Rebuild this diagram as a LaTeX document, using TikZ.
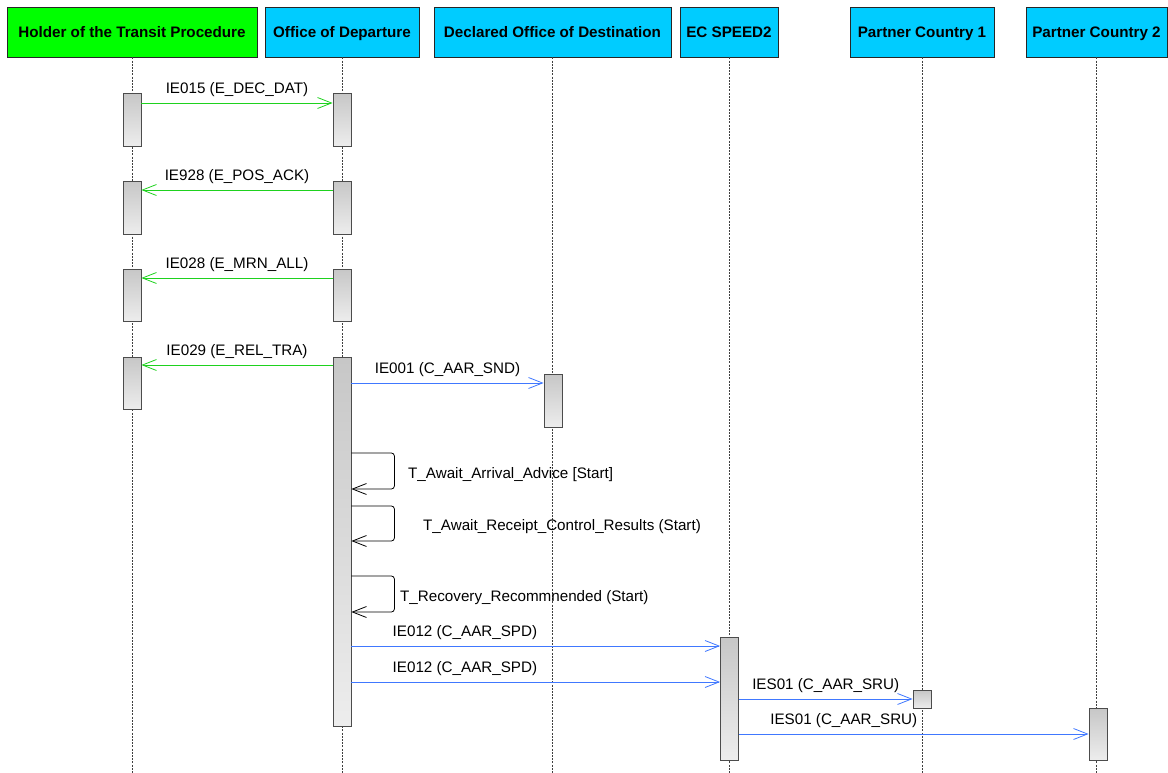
\documentclass[tikz,border=0pt]{standalone}
\usepackage{fontspec}
\setmainfont{Liberation Sans}
\usetikzlibrary{arrows.meta, positioning, calc}

\definecolor{actorgreen}{RGB}{0,255,0}
\definecolor{actorcyan}{RGB}{0,204,255}
\definecolor{msggreen}{RGB}{30,210,30}
\definecolor{msgblue}{RGB}{64,120,255}

\begin{document}
\begin{tikzpicture}[
    x=1pt, y=-1pt,
    >={Straight Barb[length=14pt,width=11pt]},
    % Cabeceras de los participantes
    actor/.style={
        draw=black!85,
        line width=0.8pt,
        fill=actorcyan,
        minimum height=50pt,
        inner sep=0pt,
        text height=12pt,
        text depth=0pt,
        font=\fontsize{15.2}{18}\selectfont\bfseries
    },
    % Lineas de vida
    lifeline/.style={
        draw=black!75,
        line width=0.6pt,
        dash pattern=on 2pt off 1.2pt
    },
    % Barras de activacion
    actbar/.style={
        draw=black!70,
        line width=0.8pt,
        top color=black!22,
        bottom color=black!7,
        minimum width=18pt,
        inner sep=0pt,
        anchor=north
    },
    % Mensajes
    greenmsg/.style={->, draw=msggreen, line width=0.8pt},
    bluemsg/.style={->, draw=msgblue, line width=0.8pt},
    selfmsg/.style={->, draw=black, line width=0.8pt, rounded corners=3pt},
    lbl/.style={
        font=\fontsize{15.2}{18}\selectfont,
        anchor=base,
        inner sep=0pt,
        yshift=9.5pt
    },
    timerlbl/.style={
        font=\fontsize{15.2}{18}\selectfont,
        anchor=base west,
        inner sep=0pt
    }
]
    \useasboundingbox (0,0) rectangle (1168,773);

    % ==========================================
    % PARTICIPANTES
    % ==========================================
    \node[actor, fill=actorgreen, minimum width=250pt] (holder) at (132,32) {Holder of the Transit Procedure};
    \node[actor, minimum width=154pt] (depart) at (342,32) {Office of Departure};
    \node[actor, minimum width=237pt] (dest) at (552.5,32) {Declared Office of Destination};
    \node[actor, minimum width=98pt] (speed) at (729,32) {EC SPEED2};
    \node[actor, minimum width=144pt] (pc1) at (922,32) {Partner Country 1};
    \node[actor, minimum width=141pt] (pc2) at (1096.5,32) {Partner Country 2};

    % Lineas de vida hasta el borde inferior
    \foreach \who in {holder, depart, dest, speed, pc1, pc2} {
        \coordinate (\who-end) at (\who.south |- 0,773);
        \draw[lifeline] (\who.south) -- (\who-end);
    }

    % ==========================================
    % BARRAS DE ACTIVACION
    % ==========================================
    \node[actbar, minimum height=53pt] (h1) at (132,93) {};
    \node[actbar, minimum height=53pt] (o1) at (342,93) {};
    \node[actbar, minimum height=53pt] (h2) at (132,181) {};
    \node[actbar, minimum height=53pt] (o2) at (342,181) {};
    \node[actbar, minimum height=52pt] (h3) at (132,269) {};
    \node[actbar, minimum height=52pt] (o3) at (342,269) {};
    \node[actbar, minimum height=52pt] (h4) at (132,357) {};
    \node[actbar, minimum height=369pt] (o4) at (342,357) {};
    \node[actbar, minimum height=53pt] (d1) at (553,374) {};
    \node[actbar, minimum height=123pt] (e1) at (729.5,637) {};
    \node[actbar, minimum height=18pt] (p1) at (922,690) {};
    \node[actbar, minimum height=52pt] (q1) at (1098,708) {};

    % ==========================================
    % MENSAJES HOLDER <-> OFFICE OF DEPARTURE
    % ==========================================
    \draw[greenmsg] ([yshift=-10pt]h1.north east) -- node[lbl] (l1) {IE015 (E\_DEC\_DAT)} ([yshift=-10pt]o1.north west);
    \draw[greenmsg] ([yshift=-9pt]o2.north west) -- node[lbl] (l2) {IE928 (E\_POS\_ACK)} ([yshift=-9pt]h2.north east);
    \draw[greenmsg] ([yshift=-9pt]o3.north west) -- node[lbl] (l3) {IE028 (E\_MRN\_ALL)} ([yshift=-9pt]h3.north east);
    \draw[greenmsg] ([yshift=-8pt]o4.north west) -- node[lbl] (l4) {IE029 (E\_REL\_TRA)} ([yshift=-8pt]h4.north east);

    % ==========================================
    % MENSAJES HACIA DESTINO Y SPEED2
    % ==========================================
    \draw[bluemsg] ([yshift=-26pt]o4.north east) -- node[lbl] (l5) {IE001 (C\_AAR\_SND)} ([yshift=-9pt]d1.north west);

    % Temporizadores (auto-mensajes)
    \draw[selfmsg] ([yshift=-96pt]o4.north east) -- ++(43,0) -- ++(0,36) -- ++(-43,0);
    \node[timerlbl] (t1) at (408,478) {T\_Await\_Arrival\_Advice [Start]};
    \draw[selfmsg] ([yshift=-149pt]o4.north east) -- ++(43,0) -- ++(0,35) -- ++(-43,0);
    \node[timerlbl] (t2) at (423,530) {T\_Await\_Receipt\_Control\_Results (Start)};
    \draw[selfmsg] ([yshift=-219pt]o4.north east) -- ++(43,0) -- ++(0,36) -- ++(-43,0);
    \node[timerlbl] (t3) at (400,601) {T\_Recovery\_Recommnended (Start)};

    \draw[bluemsg] ([yshift=-289pt]o4.north east) -- node[lbl, pos=0.308] (l6) {IE012 (C\_AAR\_SPD)} ([yshift=-9pt]e1.north west);
    \draw[bluemsg] ([yshift=-325pt]o4.north east) -- node[lbl, pos=0.308] (l7) {IE012 (C\_AAR\_SPD)} ([yshift=-45pt]e1.north west);

    % ==========================================
    % SPEED2 -> PAISES SOCIOS
    % ==========================================
    \draw[bluemsg] ([yshift=-62pt]e1.north east) -- node[lbl] (l8) {IES01 (C\_AAR\_SRU)} ([yshift=-9pt]p1.north west);
    \draw[bluemsg] ([yshift=-97pt]e1.north east) -- node[lbl, pos=0.3] (l9) {IES01 (C\_AAR\_SRU)} ([yshift=-26pt]q1.north west);

\end{tikzpicture}
\end{document}
